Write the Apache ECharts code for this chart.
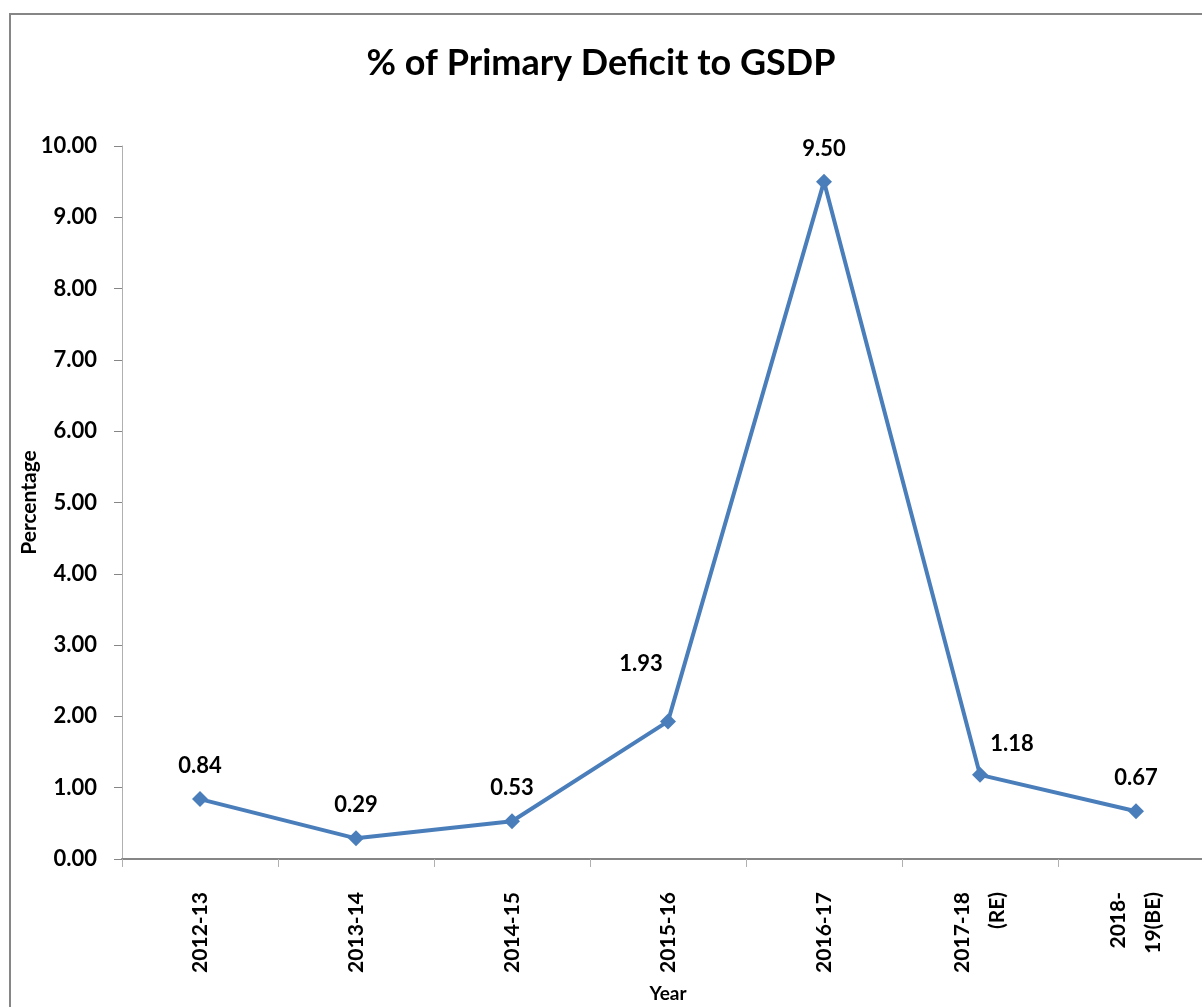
<!DOCTYPE html>
<html><head><meta charset="utf-8">
<script src="https://cdn.jsdelivr.net/npm/echarts@6/dist/echarts.min.js"></script>
<style>html,body{margin:0;padding:0;background:#fff;overflow:hidden}#c{width:1202px;height:1007px}</style>
</head><body><div id="c"></div>
<script>
const categories = ['2012-13','2013-14','2014-15','2015-16','2016-17','2017-18\n(RE)','2018-\n19(BE)'];
const values = [0.84, 0.29, 0.53, 1.93, 9.50, 1.18, 0.67];
const yTicks = [0,1,2,3,4,5,6,7,8,9,10];
const labelOffsets = {3: [-27, -24], 5: [32, 2]};

const chart = echarts.init(document.getElementById('c'));
const FONT = 'Lato, "Open Sans", sans-serif';
chart.setOption({
  animation: false,
  textStyle: {fontFamily: FONT},
  title: {text: '% of Primary Deficit to GSDP', left: 'center', top: 40,
    textStyle: {fontSize: 36, fontWeight: 'bold', color: '#000', fontFamily: FONT}},
  graphic: [{type: 'rect', shape: {x: 10, y: 14, width: 1300, height: 1100},
    style: {fill: 'none', stroke: '#868686', lineWidth: 2}, silent: true}],
  grid: {left: 122, top: 146, width: 1092, height: 713, containLabel: false, outerBoundsMode: 'none'},
  xAxis: {type: 'category', data: categories, boundaryGap: true,
    name: 'Year', nameLocation: 'middle', nameGap: 125, nameMoveOverlap: false,
    nameTextStyle: {fontSize: 19, fontWeight: 'bold', color: '#000', verticalAlign: 'top'},
    axisLine: {lineStyle: {color: '#868686', width: 2}},
    axisTick: {show: true, length: 8, lineStyle: {color: '#b0b0b0', width: 1}},
    axisLabel: {rotate: 90, fontSize: 21, fontWeight: 'bold', color: '#000', margin: 33, lineHeight: 35}},
  yAxis: {type: 'value', min: 0, max: 10, interval: 1,
    name: 'Percentage', nameLocation: 'middle', nameGap: 82, nameRotate: 90, nameMoveOverlap: false,
    nameTextStyle: {fontSize: 21, fontWeight: 'bold', color: '#000'},
    axisLine: {show: true, lineStyle: {color: '#b0b0b0', width: 1}},
    axisTick: {show: true, length: 8, lineStyle: {color: '#868686'}},
    splitLine: {show: false},
    axisLabel: {fontSize: 22, fontWeight: 'bold', color: '#000', margin: 25,
      formatter: v => yTicks.includes(v) ? v.toFixed(2) : ''}},
  series: [{type: 'line',
    data: values.map((v, i) => labelOffsets[i] ? {value: v, label: {offset: labelOffsets[i]}} : v),
    lineStyle: {color: '#4a7ebb', width: 4},
    itemStyle: {color: '#4a7ebb'},
    symbol: 'diamond', symbolSize: 16,
    label: {show: true, position: 'top', distance: 14, fontSize: 22, fontWeight: 'bold', color: '#000',
      formatter: p => p.value.toFixed(2)}}]
});
</script></body></html>
